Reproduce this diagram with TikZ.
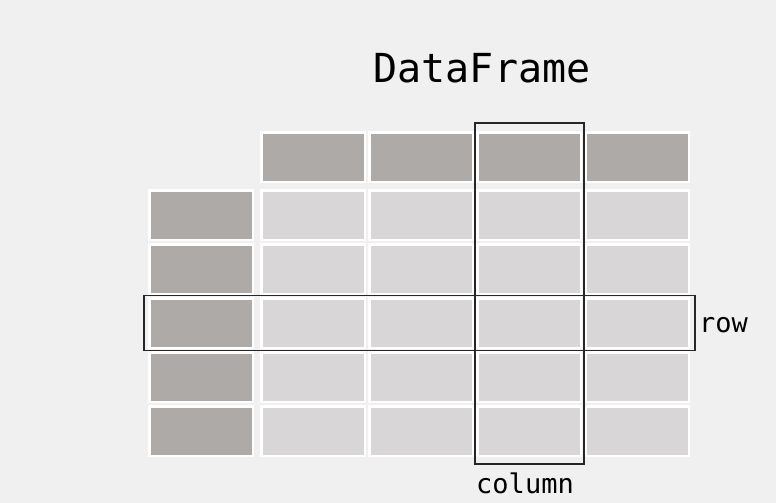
\documentclass[tikz,border=0pt]{standalone}
\usepackage{fontspec}
\newfontfamily\dvmono{DejaVu Sans Mono}
\definecolor{bg}{RGB}{240,240,240}
\definecolor{hdr}{RGB}{174,170,168}
\definecolor{cellc}{RGB}{216,214,215}
\begin{document}
\begin{tikzpicture}[x=1pt,y=-1pt,
  cell/.style={rectangle, draw=white, line width=2.5pt, minimum width=103.5pt, minimum height=49.5pt, inner sep=0pt},
  hcell/.style={cell, fill=hdr},
  dcell/.style={cell, fill=cellc},
  selbox/.style={rectangle, draw=black!85, line width=1.3pt, inner sep=0pt},
  lbl/.style={font=\dvmono\fontsize{27}{31}\selectfont, text=black, inner sep=0pt},
  ttl/.style={font=\dvmono\fontsize{40}{48}\selectfont, text=black, inner sep=0pt}]
\fill[bg] (0,0) rectangle (776,503);
\useasboundingbox (0,0) rectangle (776,503);
% title
\node[ttl, anchor=base] (title) at (482,82) {DataFrame};
% header cells
\foreach \c/\x in {1/313,2/421,3/529,4/637} {
  \node[hcell] (h\c) at (\x,157) {};
}
% index cells and data cells
\foreach \r/\y in {1/215,2/269,3/323,4/377,5/431} {
  \node[hcell] (i\r) at (201,\y) {};
  \foreach \c/\x in {1/313,2/421,3/529,4/637} {
    \node[dcell] (d\r\c) at (\x,\y) {};
  }
}
% selection boxes
\node[selbox, minimum width=551pt, minimum height=54.5pt] (rowbox) at (419.5,323) {};
\node[selbox, minimum width=109pt, minimum height=341pt] (colbox) at (529.5,293.5) {};
% labels
\node[lbl, anchor=base west] (rowlbl) at (699,332) {row};
\node[lbl, anchor=base] (collbl) at (525,493) {column};
\end{tikzpicture}
\end{document}
